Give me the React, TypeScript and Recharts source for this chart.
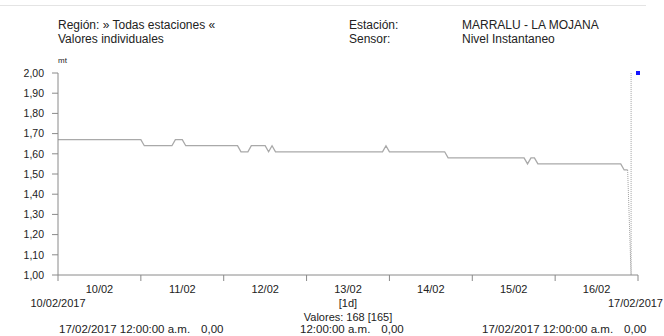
import React from "react";
import { ComposedChart, Line, Scatter, XAxis, YAxis } from "recharts";

// hourly level values (mt), 10/02/2017 00:00 onwards, one row per day
const nivel = [
  1.67, 1.67, 1.67, 1.67, 1.67, 1.67, 1.67, 1.67, 1.67, 1.67, 1.67, 1.67,
  1.67, 1.67, 1.67, 1.67, 1.67, 1.67, 1.67, 1.67, 1.67, 1.67, 1.67, 1.67,
  // 11/02
  1.67, 1.64, 1.64, 1.64, 1.64, 1.64, 1.64, 1.64, 1.64, 1.64, 1.67, 1.67,
  1.67, 1.64, 1.64, 1.64, 1.64, 1.64, 1.64, 1.64, 1.64, 1.64, 1.64, 1.64,
  // 12/02
  1.64, 1.64, 1.64, 1.64, 1.64, 1.61, 1.61, 1.61, 1.64, 1.64, 1.64, 1.64,
  1.64, 1.61, 1.64, 1.61, 1.61, 1.61, 1.61, 1.61, 1.61, 1.61, 1.61, 1.61,
  // 13/02
  1.61, 1.61, 1.61, 1.61, 1.61, 1.61, 1.61, 1.61, 1.61, 1.61, 1.61, 1.61,
  1.61, 1.61, 1.61, 1.61, 1.61, 1.61, 1.61, 1.61, 1.61, 1.61, 1.61, 1.64,
  // 14/02
  1.61, 1.61, 1.61, 1.61, 1.61, 1.61, 1.61, 1.61, 1.61, 1.61, 1.61, 1.61,
  1.61, 1.61, 1.61, 1.61, 1.61, 1.58, 1.58, 1.58, 1.58, 1.58, 1.58, 1.58,
  // 15/02
  1.58, 1.58, 1.58, 1.58, 1.58, 1.58, 1.58, 1.58, 1.58, 1.58, 1.58, 1.58,
  1.58, 1.58, 1.58, 1.58, 1.55, 1.58, 1.58, 1.55, 1.55, 1.55, 1.55, 1.55,
  // 16/02
  1.55, 1.55, 1.55, 1.55, 1.55, 1.55, 1.55, 1.55, 1.55, 1.55, 1.55, 1.55,
  1.55, 1.55, 1.55, 1.55, 1.55, 1.55, 1.55, 1.55, 1.52, 1.52,
];

// gap at the end, drawn dotted
const faltanteHoras = [165, 166, 166];
const faltanteValores = [1.52, 1.0, 2.0];

// last (flagged) value
const puntoHora = [168];
const puntoValor = [2.0];

const diaTicks = [0, 24, 48, 72, 96, 120, 144, 168];
const extremos = ["10/02/2017", "", "", "", "", "", "", "17/02/2017"];
const mediosTicks = [12, 36, 60, 84, 108, 132, 156];
const dias = ["10/02", "11/02", "12/02", "13/02", "14/02", "15/02", "16/02"];
const yTicks = [1.0, 1.1, 1.2, 1.3, 1.4, 1.5, 1.6, 1.7, 1.8, 1.9, 2.0];

const serie = nivel.map((v, i) => ({ h: i, v }));
const faltante = faltanteHoras.map((h, i) => ({ h, v: faltanteValores[i] }));
const punto = puntoHora.map((h, i) => ({ h, v: puntoValor[i] }));
const xTicks = [...diaTicks, ...mediosTicks].sort((a, b) => a - b);

const FONT = "'Liberation Sans', Arial, sans-serif";
const AXIS = "#8a8a8a";
const INK = "#222";

const txt: React.CSSProperties = {
  position: "absolute",
  fontSize: 12,
  lineHeight: "13.5px",
  color: INK,
  whiteSpace: "nowrap",
};
const pie: React.CSSProperties = { ...txt, fontSize: 11.5, top: 323 };

// day boundaries get a tick mark, day middles get the date label
function DiaTick(p: any) {
  const v = p.payload.value;
  const i = diaTicks.indexOf(v);
  if (i >= 0) {
    const last = i === diaTicks.length - 1;
    return (
      <g>
        <line x1={p.x} x2={p.x} y1={p.y} y2={p.y + 6} stroke={AXIS} />
        {extremos[i] ? (
          <text
            x={last ? p.x + 25 : p.x}
            y={p.y + 32}
            textAnchor={last ? "end" : "middle"}
            fontSize={11}
            fill={INK}
          >
            {extremos[i]}
          </text>
        ) : null}
      </g>
    );
  }
  return (
    <text x={p.x} y={p.y + 18} textAnchor="middle" fontSize={11} fill={INK}>
      {dias[mediosTicks.indexOf(v)]}
    </text>
  );
}

export default function App() {
  return (
    <div
      style={{
        position: "fixed",
        left: 0,
        top: 0,
        width: 664,
        height: 336,
        background: "#fff",
        fontFamily: FONT,
        overflow: "hidden",
      }}
    >
      <div
        style={{
          position: "absolute",
          left: 0,
          top: 5,
          width: 646,
          borderTop: "1px solid #e4e4e4",
        }}
      />
      <div style={{ ...txt, left: 58, top: 19 }}>
        Región: » Todas estaciones «
        <br />
        Valores individuales
      </div>
      <div style={{ ...txt, left: 349, top: 19 }}>
        Estación:
        <br />
        Sensor:
      </div>
      <div style={{ ...txt, left: 462, top: 19 }}>
        MARRALU - LA MOJANA
        <br />
        Nivel Instantaneo
      </div>
      <div style={{ ...txt, left: 58, top: 56, fontSize: 8, lineHeight: "10px" }}>
        mt
      </div>

      <ComposedChart
        width={664}
        height={336}
        margin={{ top: 73, right: 26, bottom: 31, left: 0 }}
        style={{ position: "absolute", left: 0, top: 0 }}
      >
        <YAxis
          type="number"
          dataKey="v"
          domain={[1, 2]}
          ticks={yTicks}
          width={58}
          tickSize={6}
          tickMargin={8}
          tickFormatter={(v: number) => v.toFixed(2).replace(".", ",")}
          axisLine={{ stroke: AXIS }}
          tickLine={{ stroke: AXIS }}
          tick={{ fill: INK, fontSize: 10.5 }}
        />
        <XAxis
          type="number"
          dataKey="h"
          domain={[0, 168]}
          ticks={xTicks}
          height={30}
          tickSize={0}
          tickMargin={0}
          axisLine={{ stroke: AXIS }}
          tickLine={false}
          tick={<DiaTick />}
          interval={0}
        />
        <Line
          data={serie}
          dataKey="v"
          type="linear"
          stroke="#a9a9a9"
          strokeWidth={1.3}
          dot={false}
          isAnimationActive={false}
        />
        <Line
          data={faltante}
          dataKey="v"
          type="linear"
          stroke="#a0a0a0"
          strokeWidth={1}
          strokeDasharray="1 1"
          dot={false}
          isAnimationActive={false}
        />
        <Scatter
          data={punto}
          dataKey="v"
          fill="#1414ff"
          isAnimationActive={false}
          shape={(p: any) => (
            <rect x={p.cx - 2} y={p.cy - 2} width={4} height={4} fill="#1414ff" />
          )}
        />
      </ComposedChart>

      <div
        style={{
          ...txt,
          fontSize: 11,
          lineHeight: "14px",
          left: 248,
          width: 200,
          top: 296,
          textAlign: "center",
        }}
      >
        [1d]
        <br />
        Valores: 168 [165]
      </div>
      <div style={{ ...pie, left: 59 }}>
        17/02/2017 12:00:00 a.m.<span style={{ marginLeft: 11 }}>0,00</span>
      </div>
      <div style={{ ...pie, left: 300 }}>
        12:00:00 a.m.<span style={{ marginLeft: 11 }}>0,00</span>
      </div>
      <div style={{ ...pie, left: 482 }}>
        17/02/2017 12:00:00 a.m.<span style={{ marginLeft: 11 }}>0,00</span>
      </div>
    </div>
  );
}
